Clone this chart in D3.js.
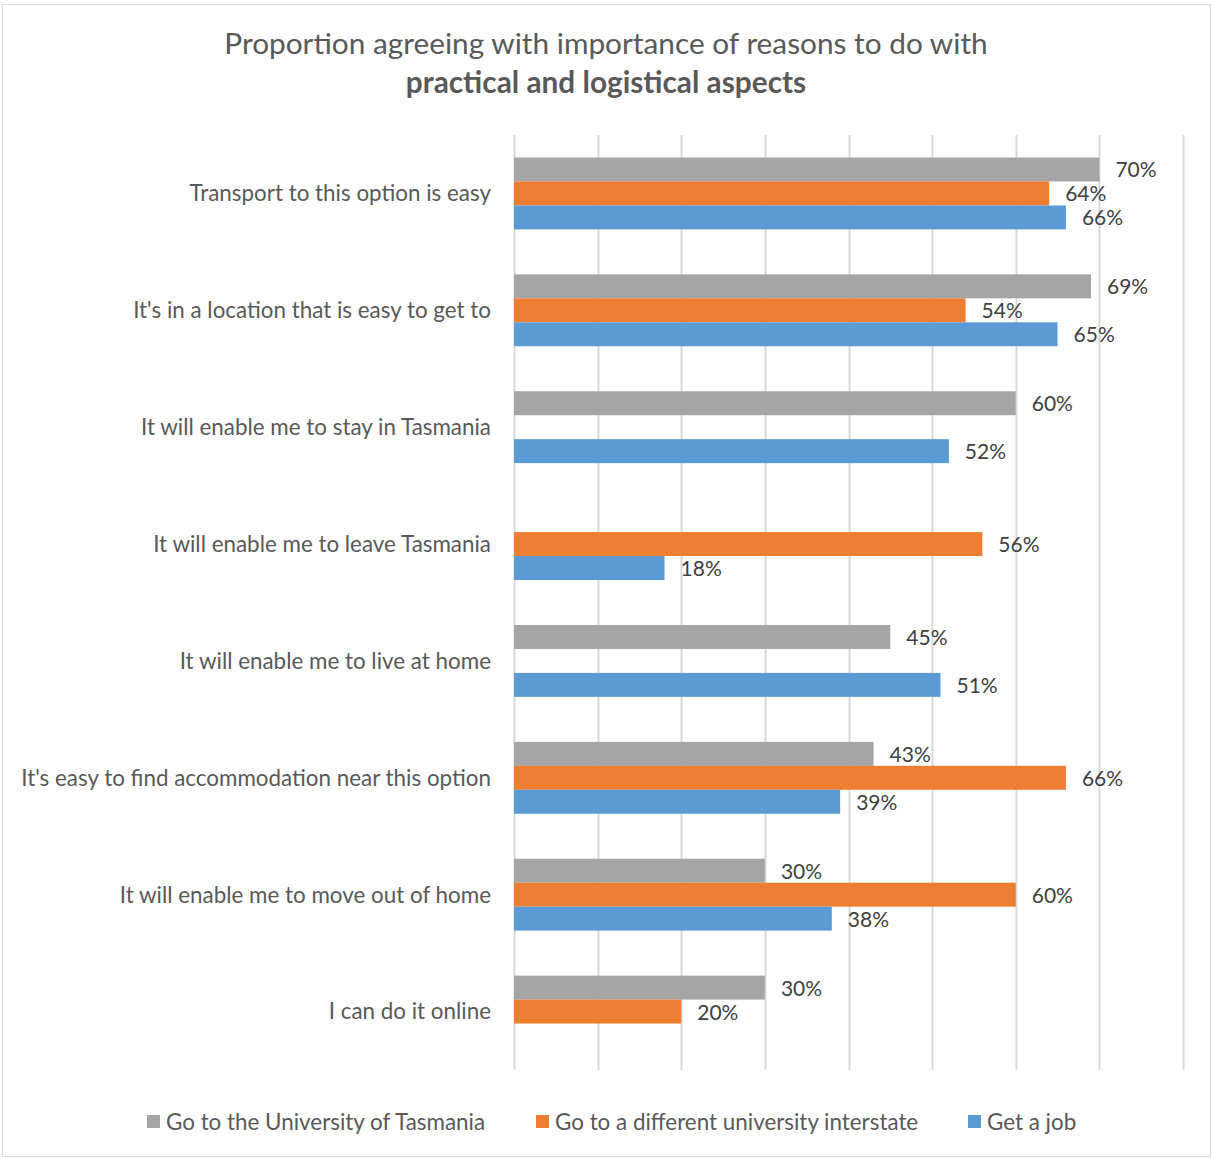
<!DOCTYPE html>
<html>
<head>
<meta charset="utf-8">
<script src="https://cdn.jsdelivr.net/npm/d3@7"></script>
<style>
  html, body { margin: 0; padding: 0; background: #fff; }
  svg { display: block; }
  text { font-family: Lato, "Open Sans", sans-serif; }
</style>
</head>
<body>
<svg id="chart" width="1212" height="1158"></svg>
<script>
// Reasons (top to bottom)
const categories = [
  "Transport to this option is easy",
  "It's in a location that is easy to get to",
  "It will enable me to stay in Tasmania",
  "It will enable me to leave Tasmania",
  "It will enable me to live at home",
  "It's easy to find accommodation near this option",
  "It will enable me to move out of home",
  "I can do it online"
];

const seriesNames = [
  "Go to the University of Tasmania",
  "Go to a different university interstate",
  "Get a job"
];

// Share agreeing (%), null where the option was not asked
const utasValues       = [70, 69, 60, null, 45, 43, 30, 30];
const interstateValues = [64, 54, null, 56, null, 66, 60, 20];
const jobValues        = [66, 65, 52, 18, 51, 39, 38, null];

const xTicks = [0, 10, 20, 30, 40, 50, 60, 70, 80];
const colors = ["#a5a5a5", "#ed7d31", "#5b9bd5"];

const valuesBySeries = [utasValues, interstateValues, jobValues];

const svg = d3.select("#chart");
const W = 1212, H = 1158;

// outer chart border
svg.append("rect")
  .attr("x", 2.5).attr("y", 4.5)
  .attr("width", W - 4).attr("height", H - 6)
  .attr("fill", "#fff").attr("stroke", "#d9d9d9").attr("stroke-width", 1);

const plot = { left: 514, right: 1183, top: 135, bottom: 1070 };

const x = d3.scaleLinear().domain([0, 80]).range([plot.left, plot.right]);

const y0 = d3.scaleBand()
  .domain(categories)
  .range([plot.top, plot.bottom])
  .paddingInner(0.385)
  .paddingOuter(0.1925);

const y1 = d3.scaleBand()
  .domain(seriesNames)
  .range([0, y0.bandwidth()]);

// vertical gridlines
svg.append("g")
  .selectAll("line")
  .data(xTicks)
  .join("line")
  .attr("x1", d => Math.round(x(d)) + 0.5)
  .attr("x2", d => Math.round(x(d)) + 0.5)
  .attr("y1", plot.top)
  .attr("y2", plot.bottom)
  .attr("stroke", "#d9d9d9")
  .attr("stroke-width", 2);

// title
const title = svg.append("text")
  .attr("text-anchor", "middle")
  .attr("fill", "#595959");
title.append("tspan")
  .attr("x", 606).attr("y", 54)
  .attr("font-size", 29.8)
  .text("Proportion agreeing with importance of reasons to do with");
title.append("tspan")
  .attr("x", 606).attr("y", 93)
  .attr("font-size", 29.8)
  .attr("font-weight", "bold")
  .text("practical and logistical aspects");

// category labels
svg.append("g")
  .selectAll("text")
  .data(categories)
  .join("text")
  .attr("x", 491)
  .attr("y", d => y0(d) + y0.bandwidth() / 2)
  .attr("dy", "0.35em")
  .attr("text-anchor", "end")
  .attr("font-size", 22.4)
  .attr("fill", "#595959")
  .text(d => d);

// bars and value labels
const rows = [];
categories.forEach((c, i) => {
  seriesNames.forEach((s, j) => {
    const v = valuesBySeries[j][i];
    if (v != null) rows.push({ c, s, j, v });
  });
});

const g = svg.append("g");
g.selectAll("rect")
  .data(rows)
  .join("rect")
  .attr("x", x(0))
  .attr("y", d => y0(d.c) + y1(d.s))
  .attr("width", d => x(d.v) - x(0))
  .attr("height", y1.bandwidth())
  .attr("fill", d => colors[d.j]);

g.selectAll("text")
  .data(rows)
  .join("text")
  .attr("x", d => x(d.v) + 16)
  .attr("y", d => y0(d.c) + y1(d.s) + y1.bandwidth() / 2)
  .attr("dy", "0.38em")
  .attr("font-size", 21)
  .attr("fill", "#404040")
  .text(d => d.v + "%");

// legend
const legendX = [147, 536, 968];
const legend = svg.append("g")
  .selectAll("g")
  .data(seriesNames)
  .join("g")
  .attr("transform", (d, i) => `translate(${legendX[i]},1122)`);
legend.append("rect")
  .attr("x", 0).attr("y", -7)
  .attr("width", 13).attr("height", 13)
  .attr("fill", (d, i) => colors[i]);
legend.append("text")
  .attr("x", 19)
  .attr("dy", "0.35em")
  .attr("font-size", 22.4)
  .attr("fill", "#595959")
  .text(d => d);
</script>
</body>
</html>
